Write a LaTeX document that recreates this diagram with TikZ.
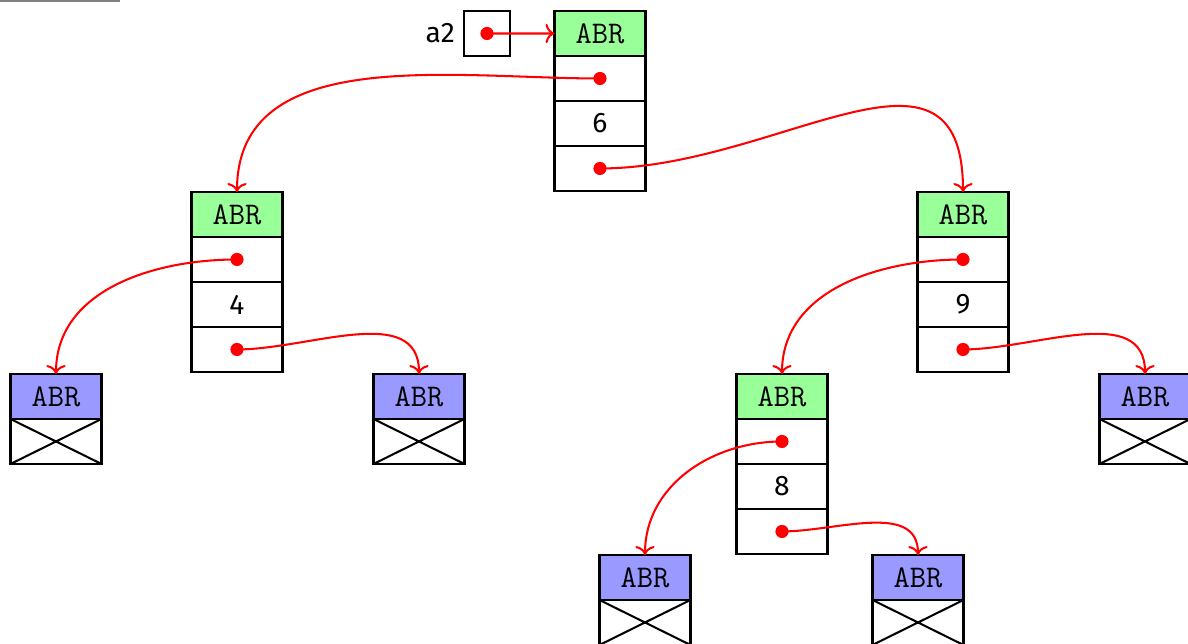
\documentclass[tikz,border=0pt]{standalone}
\usepackage{fontspec}
\setmainfont{Fira Sans}
\usetikzlibrary{arrows.meta}
\definecolor{hdrgreen}{RGB}{153,255,153}
\definecolor{hdrblue}{RGB}{153,153,255}
\tikzset{
  box/.style={draw, line width=0.8pt, inner sep=0pt, outer sep=0pt,
    minimum width=1.2467cm, minimum height=0.6165cm},
  hdr/.style={box, font=\fontsize{12.3}{14}\ttfamily},
  cell/.style={box, fill=white, font=\fontsize{11}{13}\selectfont},
  dot/.style={circle, fill=red, inner sep=0pt, minimum size=0.18cm},
  ptr/.style={red, line width=0.8pt, -{To[length=3.5pt,width=7.5pt]}},
}
\newcommand\fullnode[4]{%
  \node[hdr, fill=hdrgreen, anchor=north] (#1) at (#2,#3) {ABR};
  \node[cell, anchor=north] (#1-l) at (#1.south) {};
  \node[cell, anchor=north] (#1-v) at (#1-l.south) {#4};
  \node[cell, anchor=north] (#1-r) at (#1-v.south) {};
  \node[dot] (#1-ld) at (#1-l.center) {};
  \node[dot] (#1-rd) at (#1-r.center) {};
}
\newcommand\leafnode[3]{%
  \node[hdr, fill=hdrblue, anchor=north] (#1) at (#2,#3) {ABR};
  \node[cell, anchor=north] (#1-x) at (#1.south) {};
  \draw[line width=0.8pt] (#1-x.north west) -- (#1-x.south east)
    (#1-x.north east) -- (#1-x.south west);
}
\begin{document}
\begin{tikzpicture}[x=0.0137cm, y=-0.0137cm]
\useasboundingbox (0,0) rectangle (1188,644);
\draw[gray, line width=1.2pt] (0,0.8) -- (120,0.8);
% variable a2
\node[box, minimum width=0.63cm] (a2) at (487,33.5) {};
\node[font=\fontsize{11}{13}\selectfont, anchor=east] (a2lab) at (a2.west) {a2\hspace{4pt}};
\node[dot] (a2d) at (a2.center) {};
% nodes
\fullnode{root}{600}{11}{6}
\fullnode{L}{237}{192}{4}
\fullnode{R}{963}{192}{9}
\fullnode{E}{782}{374}{8}
\leafnode{LL}{56}{374}
\leafnode{LR}{419}{374}
\leafnode{RR}{1145}{374}
\leafnode{EL}{645}{555}
\leafnode{ER}{918}{555}
% pointers
\draw[ptr] (a2d.center) -- (root.west);
\draw[ptr] (root-ld.center) to[out=180,in=90] (L.north);
\draw[ptr] (root-rd.center) to[out=0,in=90,looseness=1.25] (R.north);
\draw[ptr] (L-ld.center) to[out=180,in=90] (LL.north);
\draw[ptr] (L-rd.center) to[out=0,in=90] (LR.north);
\draw[ptr] (R-ld.center) to[out=180,in=90] (E.north);
\draw[ptr] (R-rd.center) to[out=0,in=90] (RR.north);
\draw[ptr] (E-ld.center) to[out=180,in=90] (EL.north);
\draw[ptr] (E-rd.center) to[out=0,in=90] (ER.north);
\end{tikzpicture}
\end{document}
